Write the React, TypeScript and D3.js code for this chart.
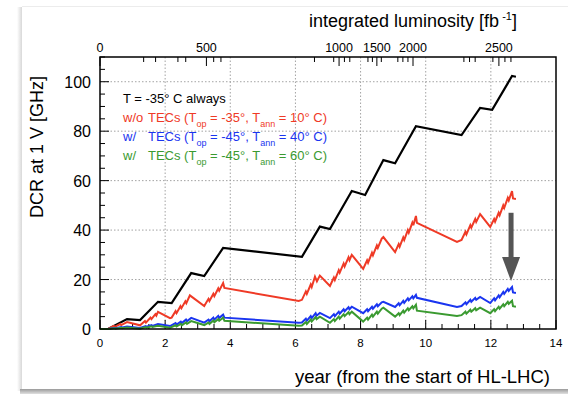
import React from "react";
import * as d3 from "d3";

// ---------------- data ----------------
const xTicksMajor = [0, 2, 4, 6, 8, 10, 12, 14];
const yTicksMajor = [0, 20, 40, 60, 80, 100];
const lumiMajor = [0, 500, 1000, 1500, 2000, 2500];
// year <-> integrated luminosity knots (flat during shutdowns)
const lumiKnotYears = [0, 0.83, 1.23, 1.78, 2.2, 2.8, 3.2, 3.78, 6.2, 6.75, 7.06, 7.73, 8.14, 8.7, 9.06, 9.7, 11.1, 11.67, 12.04, 12.65, 12.77];
const lumiKnotValues = [0, 70, 70.01, 220, 220.01, 470, 470.01, 730, 730.01, 830, 830.01, 1237, 1237.01, 1646, 1646.01, 2058, 2058.01, 2388, 2388.01, 2718, 2718.01];

const blackSeries: [number, number][] = [
  [0, 0], [0.25, 0], [0.83, 4], [1.23, 3.6], [1.78, 11], [2.2, 10.5], [2.8, 22.6], [3.2, 21.4], [3.78, 32.8],
  [6.2, 29.2], [6.75, 41.4], [7.06, 40.4], [7.73, 55.8], [8.14, 54.2], [8.7, 68.3], [9.06, 67], [9.7, 82],
  [11.1, 78.4], [11.67, 89.4], [12.04, 88.6], [12.65, 102.3], [12.77, 102],
];
const redSeries: [number, number][] = [
  [0, 0], [0.25, 0], [0.42, 1.2], [0.45, 0.9], [0.62, 2], [0.65, 1.6], [0.83, 2.8], [1.23, 1.5],
  [1.38, 3.2], [1.41, 2.6], [1.55, 4.6], [1.58, 4], [1.7, 6], [1.73, 5.4], [1.78, 6.9], [2.15, 4.4],
  [2.2, 4.6], [2.32, 7.2], [2.35, 6.4], [2.47, 9.2], [2.5, 8.4], [2.62, 11.2], [2.65, 10.4], [2.76, 13.6], [2.8, 13.2], [3.2, 9.3],
  [3.33, 12.2], [3.36, 11.3], [3.48, 14.2], [3.51, 13.3], [3.63, 16.4], [3.66, 15.5], [3.78, 18.6], [3.82, 16.6], [6.1, 11.3],
  [6.2, 11.8], [6.32, 15.2], [6.35, 14.2], [6.47, 18], [6.5, 17], [6.6, 21.2], [6.66, 19.3], [6.75, 21.6], [7.06, 17.4],
  [7.18, 20.8], [7.21, 19.8], [7.33, 23.8], [7.36, 22.8], [7.48, 26.5], [7.51, 25.3], [7.63, 29], [7.66, 27.8], [7.73, 30], [8.08, 24.3],
  [8.2, 27.8], [8.23, 26.8], [8.35, 30.8], [8.38, 29.8], [8.5, 33.8], [8.53, 32.8], [8.65, 36.6], [8.7, 37.2], [9.06, 31.1],
  [9.17, 34.3], [9.2, 33.3], [9.31, 37], [9.34, 36], [9.45, 40], [9.48, 39], [9.59, 43], [9.62, 42], [9.7, 45.7], [9.73, 42.9], [10.96, 35.2], [11.1, 36],
  [11.22, 39.3], [11.25, 38.3], [11.37, 42], [11.4, 41], [11.52, 44.5], [11.55, 43.3], [11.67, 46.5], [11.98, 41.3],
  [12.1, 44.5], [12.13, 43.4], [12.24, 47], [12.27, 46], [12.38, 50], [12.41, 49], [12.52, 53], [12.55, 52], [12.65, 55.8], [12.68, 52.8], [12.77, 52.6],
];
const blueSeries: [number, number][] = [
  [0, 0], [0.25, 0], [0.45, 0.5], [0.48, 0.3], [0.65, 0.8], [0.68, 0.6], [0.83, 1], [1.23, 0.4],
  [1.4, 1.2], [1.43, 0.9], [1.58, 1.6], [1.61, 1.2], [1.78, 2], [2.15, 1.2],
  [2.32, 2.4], [2.35, 1.8], [2.48, 3], [2.51, 2.4], [2.64, 3.8], [2.67, 3.1], [2.8, 4.5], [3.2, 2.6],
  [3.33, 3.8], [3.36, 3.1], [3.48, 4.6], [3.51, 3.8], [3.63, 5.3], [3.66, 4.5], [3.78, 5.8], [3.82, 4.6], [6.1, 2.5],
  [6.2, 2.6], [6.32, 4.2], [6.35, 3.4], [6.47, 5.2], [6.5, 4.4], [6.62, 6.4], [6.65, 5.4], [6.75, 6.5], [7.06, 4.4],
  [7.18, 6], [7.21, 5.2], [7.33, 7], [7.36, 6.2], [7.48, 8], [7.51, 7.2], [7.63, 8.8], [7.66, 8], [7.73, 9], [8.08, 6.4],
  [8.2, 8], [8.23, 7.2], [8.35, 9], [8.38, 8.2], [8.5, 10], [8.53, 9.2], [8.65, 10.8], [8.7, 11], [9.06, 8.9],
  [9.17, 10.4], [9.2, 9.6], [9.31, 11.4], [9.34, 10.6], [9.45, 12.4], [9.48, 11.6], [9.59, 13.2], [9.62, 12.4], [9.7, 13.8], [9.73, 12.6], [10.96, 8.9], [11.1, 9.3],
  [11.22, 10.8], [11.25, 10], [11.37, 11.8], [11.4, 11], [11.52, 12.6], [11.55, 11.8], [11.67, 13], [11.98, 10.5],
  [12.1, 12.4], [12.13, 11.6], [12.24, 13.6], [12.27, 12.8], [12.38, 15], [12.41, 14.2], [12.52, 16.2], [12.55, 15.4], [12.65, 17], [12.68, 14.8], [12.77, 14.6],
];
const greenSeries: [number, number][] = [
  [0, 0], [0.25, 0], [0.45, 0.3], [0.48, 0.1], [0.65, 0.5], [0.68, 0.3], [0.83, 0.6], [1.23, 0.1],
  [1.4, 0.8], [1.43, 0.5], [1.58, 1.1], [1.61, 0.8], [1.78, 1.3], [2.15, 0.5],
  [2.32, 1.5], [2.35, 1], [2.48, 2.1], [2.51, 1.5], [2.64, 2.7], [2.67, 2.1], [2.8, 3.2], [3.2, 1.6],
  [3.33, 2.6], [3.36, 2], [3.48, 3.4], [3.51, 2.7], [3.63, 4], [3.66, 3.3], [3.78, 4.6], [3.82, 3.3], [6.1, 1.3],
  [6.2, 1.4], [6.32, 2.8], [6.35, 2], [6.47, 3.8], [6.5, 3], [6.62, 4.8], [6.65, 4], [6.75, 5], [7.06, 2.5],
  [7.18, 4], [7.21, 3.2], [7.33, 5], [7.36, 4.2], [7.48, 6], [7.51, 5.2], [7.63, 6.8], [7.66, 6], [7.73, 7], [8.08, 3],
  [8.2, 4.6], [8.23, 3.8], [8.35, 5.8], [8.38, 5], [8.5, 7], [8.53, 6.2], [8.65, 8.2], [8.7, 8.6], [9.06, 5],
  [9.17, 6.4], [9.2, 5.6], [9.31, 7.4], [9.34, 6.6], [9.45, 8.4], [9.48, 7.6], [9.59, 9.2], [9.62, 8.4], [9.7, 9.8], [9.73, 7.4], [10.96, 5.3], [11.1, 5.6],
  [11.22, 7], [11.25, 6.2], [11.37, 7.8], [11.4, 7], [11.52, 8.4], [11.55, 7.6], [11.67, 8.6], [11.98, 6.4],
  [12.1, 8], [12.13, 7.2], [12.24, 9], [12.27, 8.2], [12.38, 10], [12.41, 9.2], [12.52, 11], [12.55, 10.2], [12.65, 11.4], [12.68, 9.2], [12.77, 9],
];
// arrow annotation (year, DCR from -> to)
const arrowYear = 12.62;
const arrowFrom = 47;
const arrowTo = 19.4;

const RED = "#ef3a26";
const BLUE = "#1a35f0";
const GREEN = "#3a9a30";

const W = 568, H = 394;
const FONT = "'Liberation Sans', Arial, Helvetica, sans-serif";

export default function App() {
  const x = d3.scaleLinear().domain([0, 14]).range([100, 556]);
  const y = d3.scaleLinear().domain([0, 110]).range([329, 57]);
  const lumiToYear = d3.scaleLinear().domain(lumiKnotValues).range(lumiKnotYears);
  const line = d3.line<[number, number]>().x((d) => x(d[0])).y((d) => y(d[1]));

  const xMinor = d3.range(0, 14.01, 0.5);
  const yMinor = d3.range(0, 110.01, 5);
  const lumiMinor = d3.range(0, 2701, 100).filter((v) => v % 500 !== 0);

  const [x0, x1] = x.range();
  const [y1, y0] = [y(0), y(110)];

  const series = [
    { d: blackSeries, c: "#000", w: 2.2 },
    { d: redSeries, c: RED, w: 2 },
    { d: blueSeries, c: BLUE, w: 2 },
    { d: greenSeries, c: GREEN, w: 2 },
  ];

  const ax = x(arrowYear);
  const headBase = y(arrowTo) - 24;

  return (
    <div style={{ position: "fixed", left: 0, top: 0 }}>
      <svg width={W} height={H} style={{ display: "block" }} fontFamily={FONT}>
        <defs>
          <linearGradient id="shL" x1="0" x2="1" y1="0" y2="0">
            <stop offset="0" stopColor="#fff" />
            <stop offset="1" stopColor="#d8d8d8" />
          </linearGradient>
          <linearGradient id="shB" x1="0" x2="0" y1="0" y2="1">
            <stop offset="0" stopColor="#9a9a9a" />
            <stop offset="1" stopColor="#e0e0e0" />
          </linearGradient>
        </defs>
        <rect x={0} y={0} width={W} height={H} fill="#fff" />
        {/* card shadow */}
        <rect x={17} y={7} width={5} height={384} fill="url(#shL)" />
        <rect x={20} y={389} width={548} height={5} fill="url(#shB)" />
        <line x1={22} x2={W} y1={6.5} y2={6.5} stroke="#ececec" />
        <rect x={22} y={7} width={546} height={382} fill="#fff" />

        {/* grid */}
        <g stroke="#999" strokeWidth={0.9} strokeDasharray="1.5,2">
          {xTicksMajor.filter((t) => t > 0 && t < 14).map((t) => (
            <line key={"gx" + t} x1={x(t)} x2={x(t)} y1={y0} y2={y1} />
          ))}
          {yTicksMajor.filter((t) => t > 0).map((t) => (
            <line key={"gy" + t} x1={x0} x2={x1} y1={y(t)} y2={y(t)} />
          ))}
        </g>

        {/* ticks */}
        <g stroke="#000" strokeWidth={1}>
          {xMinor.map((t) => {
            const major = xTicksMajor.includes(t);
            return <line key={"tx" + t} x1={x(t)} x2={x(t)} y1={y1} y2={y1 - (major ? 9 : 5)} />;
          })}
          {yMinor.map((t) => {
            const major = yTicksMajor.includes(t);
            return <line key={"ty" + t} x1={x0} x2={x0 + (major ? 9 : 5)} y1={y(t)} y2={y(t)} />;
          })}
          {lumiMajor.map((l) => (
            <line key={"tl" + l} x1={x(lumiToYear(l))} x2={x(lumiToYear(l))} y1={y0} y2={y0 + 9} />
          ))}
          {lumiMinor.map((l) => (
            <line key={"tm" + l} x1={x(lumiToYear(l))} x2={x(lumiToYear(l))} y1={y0} y2={y0 + 5} />
          ))}
        </g>

        {/* series */}
        {series.map((s, i) => (
          <path key={i} d={line(s.d) || ""} fill="none" stroke={s.c} strokeWidth={s.w} strokeLinejoin="miter" strokeMiterlimit={3} />
        ))}

        {/* arrow */}
        <line x1={ax} x2={ax} y1={y(arrowFrom)} y2={headBase + 2} stroke="#555" strokeWidth={5} />
        <path d={`M${ax - 9},${headBase} L${ax + 9},${headBase} L${ax},${y(arrowTo)} Z`} fill="#555" />

        {/* frame */}
        <rect x={x0} y={y0} width={x1 - x0} height={y1 - y0} fill="none" stroke="#000" strokeWidth={1.5} />

        {/* tick labels */}
        <g fontSize={11.5} textAnchor="middle" fill="#000">
          {xTicksMajor.map((t) => (
            <text key={"lx" + t} x={x(t)} y={347}>{t}</text>
          ))}
        </g>
        <g fontSize={16} textAnchor="end" fill="#000">
          {yTicksMajor.map((t) => (
            <text key={"ly" + t} x={91} y={y(t) + 6}>{t}</text>
          ))}
        </g>
        <g fontSize={12.5} textAnchor="middle" fill="#000">
          {lumiMajor.map((l) => (
            <text key={"ll" + l} x={x(lumiToYear(l))} y={52}>{l}</text>
          ))}
        </g>

        {/* axis titles */}
        <text x={550} y={383} fontSize={18.5} textAnchor="end">year (from the start of HL-LHC)</text>
        <text x={517} y={27} fontSize={18} textAnchor="end">
          integrated luminosity [fb
          <tspan fontSize={11} dy={-7}> -1</tspan>
          <tspan dy={7}>]</tspan>
        </text>
        <text transform="translate(43,76) rotate(-90)" fontSize={18} textAnchor="end">DCR at 1 V [GHz]</text>

        {/* legend */}
        <g fontSize={13}>
          <text x={123} y={103} fill="#000">T = -35° C always</text>
          <text x={123} y={122} fill={RED}>w/o</text>
          <text x={148} y={122} fill={RED}>
            TECs (T<tspan fontSize={9} dy={5}>op</tspan><tspan dy={-5}> = -35°, T</tspan>
            <tspan fontSize={9} dy={5}>ann</tspan><tspan dy={-5}> = 10° C)</tspan>
          </text>
          <text x={123} y={141} fill={BLUE}>w/</text>
          <text x={148} y={141} fill={BLUE}>
            TECs (T<tspan fontSize={9} dy={5}>op</tspan><tspan dy={-5}> = -45°, T</tspan>
            <tspan fontSize={9} dy={5}>ann</tspan><tspan dy={-5}> = 40° C)</tspan>
          </text>
          <text x={123} y={160} fill={GREEN}>w/</text>
          <text x={148} y={160} fill={GREEN}>
            TECs (T<tspan fontSize={9} dy={5}>op</tspan><tspan dy={-5}> = -45°, T</tspan>
            <tspan fontSize={9} dy={5}>ann</tspan><tspan dy={-5}> = 60° C)</tspan>
          </text>
        </g>
      </svg>
    </div>
  );
}
